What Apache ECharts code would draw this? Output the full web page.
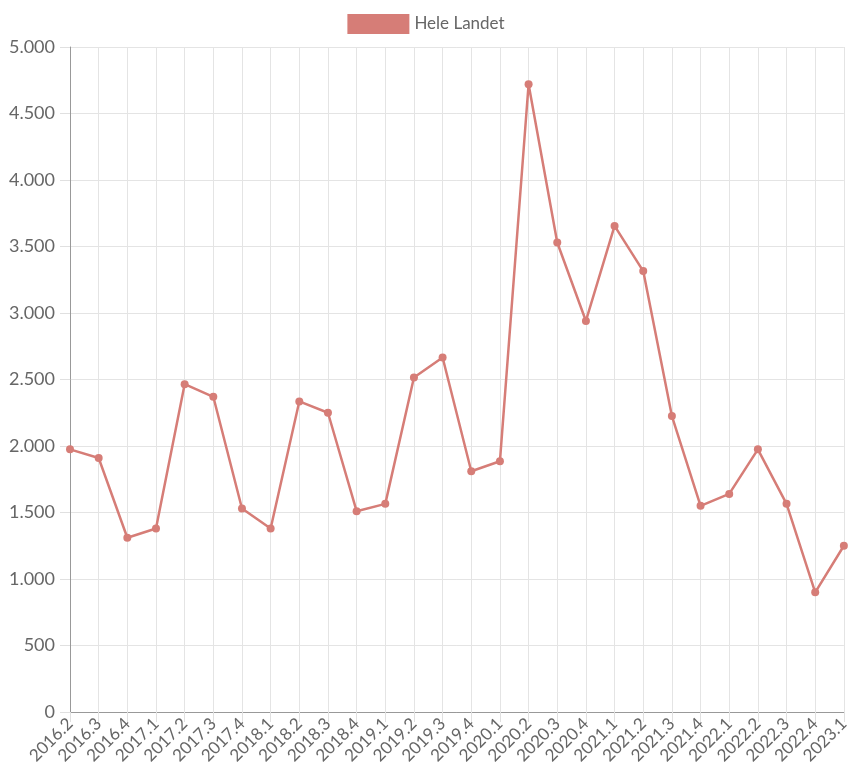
<!DOCTYPE html>
<html>
<head>
<meta charset="utf-8">
<script src="https://cdn.jsdelivr.net/npm/echarts@6/dist/echarts.min.js"></script>
<style>
    html, body { margin: 0; padding: 0; background: #fff; }
    #main { width: 852px; height: 773px; }
</style>
</head>
<body>
<div id="main"></div>
<script>
// kvartaler
var kvartaler = ['2016.2', '2016.3', '2016.4', '2017.1', '2017.2', '2017.3', '2017.4',
    '2018.1', '2018.2', '2018.3', '2018.4', '2019.1', '2019.2', '2019.3', '2019.4',
    '2020.1', '2020.2', '2020.3', '2020.4', '2021.1', '2021.2', '2021.3', '2021.4',
    '2022.1', '2022.2', '2022.3', '2022.4', '2023.1'];
// Hele Landet
var heleLandet = [1975, 1910, 1310, 1380, 2465, 2370, 1530, 1380, 2335, 2250, 1510, 1565,
    2515, 2665, 1810, 1885, 4720, 3530, 2940, 3655, 3315, 2225, 1550, 1640, 1975, 1565, 900, 1250];
var yTicks = [0, 500, 1000, 1500, 2000, 2500, 3000, 3500, 4000, 4500, 5000];

var myChart = echarts.init(document.getElementById('main'));
var farge = '#d67d77';
var fontFam = 'Lato, "Open Sans", sans-serif';

var option = {
    animation: false,
    legend: {
        top: 9,
        left: 'center',
        icon: 'rect',
        itemWidth: 62,
        itemHeight: 20,
        itemGap: 8,
        textStyle: { color: '#666', fontSize: 17, fontFamily: fontFam },
        data: ['Hele Landet']
    },
    grid: {
        left: 70,
        right: 5,
        top: 47,
        bottom: 61
    },
    xAxis: {
        type: 'category',
        boundaryGap: false,
        data: kvartaler,
        axisLine: { lineStyle: { color: '#999' } },
        axisTick: { show: true, length: 10, lineStyle: { color: '#e0e0e0' } },
        axisLabel: {
            rotate: 45,
            color: '#666',
            fontSize: 17,
            fontFamily: fontFam,
            margin: 9,
            interval: 0
        },
        splitLine: { show: true, lineStyle: { color: '#e4e4e4' } }
    },
    yAxis: {
        type: 'value',
        min: yTicks[0],
        max: yTicks[yTicks.length - 1],
        interval: 500,
        axisLine: { show: true, lineStyle: { color: '#999' } },
        axisTick: { show: true, length: 10, lineStyle: { color: '#e0e0e0' } },
        axisLabel: {
            color: '#666',
            fontSize: 18,
            fontFamily: fontFam,
            margin: 15,
            formatter: function (v) {
                return String(v).replace(/\B(?=(\d{3})+(?!\d))/g, '.');
            }
        },
        splitLine: { show: true, lineStyle: { color: '#e4e4e4' } }
    },
    series: [
        {
            name: 'Hele Landet',
            type: 'line',
            data: heleLandet,
            symbol: 'circle',
            symbolSize: 8,
            itemStyle: { color: farge },
            lineStyle: { color: farge, width: 2.5 }
        }
    ]
};
myChart.setOption(option);
window.addEventListener('resize', function () {
    myChart.resize();
});
</script>
</body>
</html>
